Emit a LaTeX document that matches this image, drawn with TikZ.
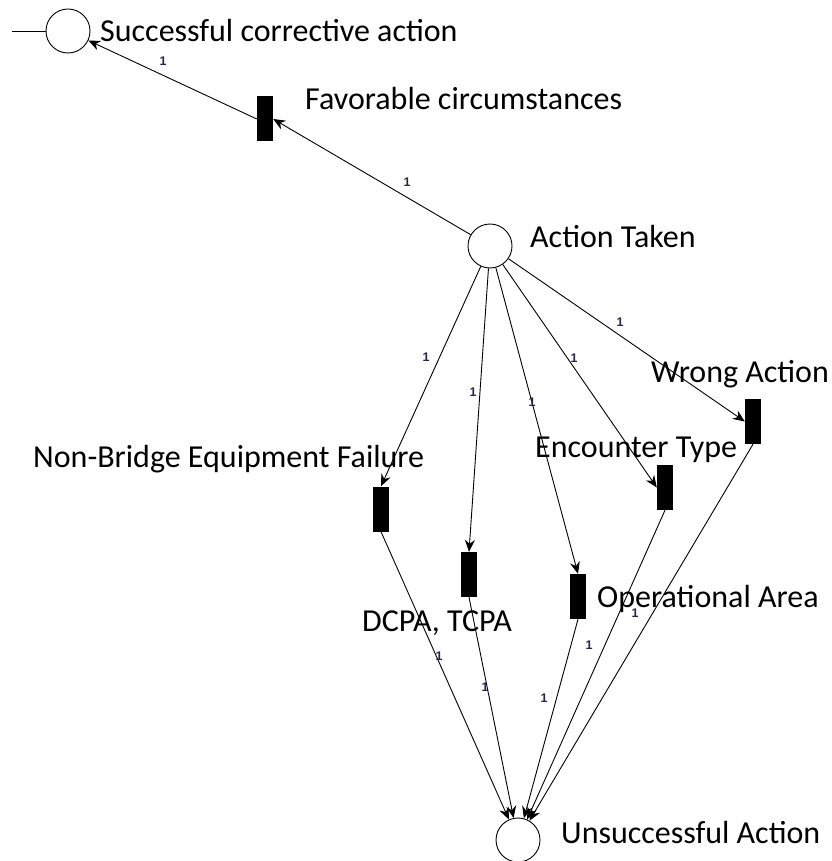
\documentclass[tikz,border=0pt]{standalone}
\usepackage{fontspec}
\setmainfont{Carlito}
\newfontfamily\arcfont{Liberation Sans}
\usetikzlibrary{arrows.meta}
\definecolor{arclbl}{RGB}{45,35,70}
\begin{document}
\begin{tikzpicture}[x=1pt,y=-1pt,
  place/.style={draw,circle,minimum size=44pt,inner sep=0pt,line width=0.9pt},
  trans/.style={fill=black,draw=none,minimum width=16pt,minimum height=45pt,inner sep=0pt},
  lbl/.style={anchor=base west,inner sep=0pt,font=\fontsize{32}{37}\selectfont},
  arc/.style={line width=0.9pt,-{Stealth[length=12pt,width=10pt,inset=4pt]}},
  w/.style={font=\arcfont\bfseries\fontsize{12.5}{14}\selectfont,text=arclbl,inner sep=0pt}]
\useasboundingbox (0,0) rectangle (831,861);
% places
\node[place] (S) at (68,31) {};
\node[place] (A) at (490,246) {};
\node[place] (U) at (518,840) {};
% transitions
\node[trans] (F) at (265,119) {};
\node[trans] (W) at (753,421.5) {};
\node[trans] (E) at (665,487.5) {};
\node[trans] (N) at (381,509) {};
\node[trans] (D) at (469,574.5) {};
\node[trans] (O) at (578,596.5) {};
% free end
\coordinate (s0) at (12,31);
\draw[line width=0.9pt] (s0) -- (S.west);
% arcs
\draw[arc] (A) -- (F.east);
\draw[arc] (F.west) -- (S);
\draw[arc] (A) -- (W.west);
\draw[arc] (A) -- (E.west);
\draw[arc] (A) -- (N.north);
\draw[arc] (A) -- (D.north);
\draw[arc] (A) -- (O.north);
\draw[arc] (N.south) -- (U);
\draw[arc] (D.south) -- (U);
\draw[arc] (O.south) -- (U);
\draw[arc] (E.south) -- (U);
\draw[arc] (W.south) -- (U);
% arc weights
\node[w] (w1) at (163,61) {1};
\node[w] (w2) at (407,182) {1};
\node[w] (w3) at (620,322) {1};
\node[w] (w4) at (574,358) {1};
\node[w] (w5) at (426,357) {1};
\node[w] (w6) at (473,392) {1};
\node[w] (w7) at (532,402) {1};
\node[w] (w8) at (439,656) {1};
\node[w] (w9) at (485,687) {1};
\node[w] (w10) at (544,698) {1};
\node[w] (w11) at (589,645) {1};
\node[w] (w12) at (635,613) {1};
% labels
\node[lbl] (lS) at (100,42) {Successful corrective action};
\node[lbl] (lF) at (305,110) {Favorable circumstances};
\node[lbl] (lA) at (530,247) {Action Taken};
\node[lbl] (lW) at (651,382) {Wrong Action};
\node[lbl] (lE) at (535,457) {Encounter Type};
\node[lbl] (lN) at (33,467) {Non-Bridge Equipment Failure};
\node[lbl] (lD) at (362,631) {DCPA, TCPA};
\node[lbl] (lO) at (597,607) {Operational Area};
\node[lbl] (lU) at (561,843) {Unsuccessful Action};
\end{tikzpicture}
\end{document}
